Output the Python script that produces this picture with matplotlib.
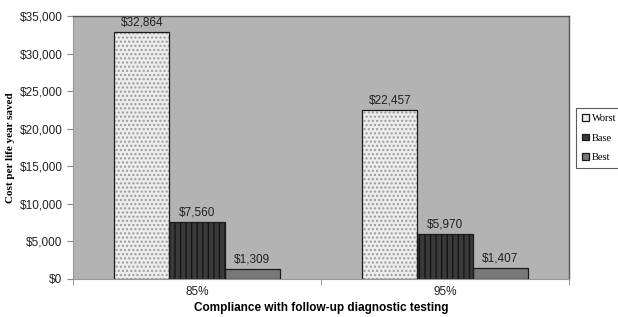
import numpy as np
import matplotlib
matplotlib.use("Agg")
import matplotlib.pyplot as plt
import matplotlib.patches as mpatches
from matplotlib.ticker import FuncFormatter, FixedLocator

# compliance levels on x, one bar per scenario
categories = ["85%", "95%"]
scenarios  = ["Worst", "Base", "Best"]
worst = [32864, 22457]
base  = [7560, 5970]
best  = [1309, 1407]

BG = "#b3b3b3"

fig = plt.figure(figsize=(6.18, 3.17), dpi=100)
ax = fig.add_axes([73 / 618, 1 - 279 / 317, 496 / 618, 263 / 317])
ax.set_facecolor(BG)

x = np.arange(len(categories))
w = 0.222
series = [worst, base, best]
styles = [
    dict(face="#ececec", hatch="....", hcol="#9a9a9a"),
    dict(face="#3a3a3a", hatch="|||", hcol="#151515"),
    dict(face="#787878", hatch=None, hcol="#787878"),
]
handles = []
for i, (vals, st) in enumerate(zip(series, styles)):
    xs = x + (i - 1) * w
    ax.bar(xs, vals, width=w, color=st["face"], hatch=st["hatch"],
           edgecolor=st["hcol"], linewidth=0, zorder=2)
    ax.bar(xs, vals, width=w, fill=False, edgecolor="#1a1a1a",
           linewidth=0.9, zorder=3)
    for xi, v in zip(xs, vals):
        ax.text(xi, v + 500, "${:,}".format(v), ha="center", va="bottom",
                fontsize=8.5, family="Liberation Sans", color="#222222")
    handles.append(mpatches.Patch(facecolor=st["face"], edgecolor="#1a1a1a",
                                  linewidth=0.9, label=scenarios[i]))

ax.set_xlim(-0.5, 1.5)
ax.set_ylim(0, 35000)
ax.yaxis.set_major_locator(FixedLocator(np.arange(0, 35001, 5000)))
ax.yaxis.set_major_formatter(FuncFormatter(lambda v, p: "${:,.0f}".format(v)))
ax.set_xticks(x)
ax.set_xticklabels(categories)
ax.xaxis.set_minor_locator(FixedLocator([-0.5, 0.5, 1.5]))
ax.tick_params(axis="x", which="major", length=0, pad=5)
ax.tick_params(axis="x", which="minor", length=4, color="#888888")
ax.tick_params(axis="y", length=4, color="#888888")
for lab in ax.get_xticklabels() + ax.get_yticklabels():
    lab.set_family("Liberation Sans")
    lab.set_fontsize(8.5)
    lab.set_color("#222222")

for s in ("top", "right"):
    ax.spines[s].set_color("#555555")
    ax.spines[s].set_linewidth(1.0)
for s in ("left", "bottom"):
    ax.spines[s].set_color("#999999")
    ax.spines[s].set_linewidth(0.8)

ax.set_ylabel("Cost per life year saved", family="Liberation Serif",
              fontweight="bold", fontsize=8, labelpad=3)
ax.set_xlabel("Compliance with follow-up diagnostic testing",
              family="Liberation Sans", fontweight="bold", fontsize=8.5,
              labelpad=3)

leg = ax.legend(handles=handles, loc="upper left",
                bbox_to_anchor=(576 / 618, 1 - 108 / 317),
                bbox_transform=fig.transFigure, frameon=True, fancybox=False,
                prop={"family": "Liberation Serif", "size": 7.5},
                handlelength=0.6, handleheight=0.6, handletextpad=0.3,
                labelspacing=1.0, borderpad=0.6, borderaxespad=0)
leg.get_frame().set_edgecolor("#333333")
leg.get_frame().set_linewidth(0.8)

fig.savefig("out.png", dpi=100)
